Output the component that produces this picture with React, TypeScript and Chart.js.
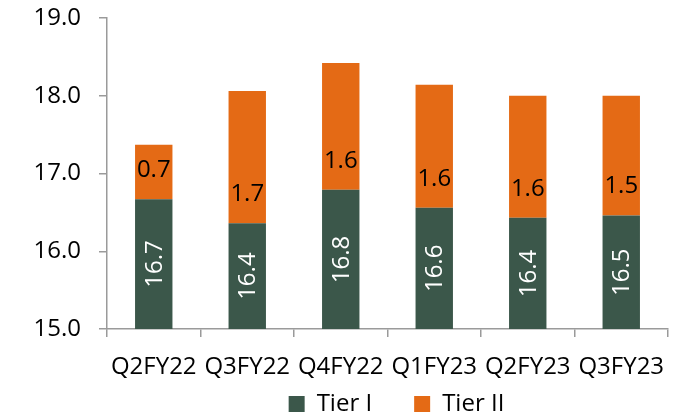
import React, { useEffect, useRef } from "react";
import { Chart, registerables } from "chart.js";

Chart.register(...registerables);

const categories = ["Q2FY22", "Q3FY22", "Q4FY22", "Q1FY23", "Q2FY23", "Q3FY23"];
const tier1 = [16.67, 16.36, 16.79, 16.56, 16.43, 16.46];
const tier2 = [0.7, 1.7, 1.63, 1.58, 1.57, 1.54];
const yTicks = [15, 16, 17, 18, 19];

const FONT = "'Open Sans'";
const FS = 24;
const GREEN = "#3B574A";
const ORANGE = "#E46A15";
const AXIS = "#9a9a9a";

const labelPlugin = {
  id: "barLabels",
  afterLayout(chart: any) {
    const lg = chart.legend;
    if (lg) {
      lg.top = 404 - 42 - FS / 2;
      lg.bottom = chart.height;
      lg.height = lg.bottom - lg.top;
      lg.left += 9;
      lg.right += 9;
    }
  },
  afterDatasetsDraw(chart: any) {
    const ctx = chart.ctx;
    const area = chart.chartArea;
    ctx.save();
    ctx.font = `${FS}px ${FONT}`;
    ctx.textAlign = "center";
    ctx.textBaseline = "middle";
    chart.data.datasets.forEach((ds: any, di: number) => {
      const meta = chart.getDatasetMeta(di);
      meta.data.forEach((el: any, i: number) => {
        const v = ds.data[i] as number;
        const txt = v.toFixed(1);
        const { x, y, base } = el.getProps(["x", "y", "base"], true);
        const b = Math.min(base, area.bottom);
        if (di === 0) {
          ctx.save();
          ctx.translate(x, (y + b) / 2);
          ctx.rotate(-Math.PI / 2);
          ctx.fillStyle = "#ffffff";
          ctx.fillText(txt, 0, 1);
          ctx.restore();
        } else {
          ctx.fillStyle = "#000000";
          ctx.fillText(txt, x, b - 29);
        }
      });
    });
    ctx.restore();
  },
};

export default function App() {
  const ref = useRef<HTMLCanvasElement | null>(null);

  useEffect(() => {
    if (!ref.current) return;
    const chart = new Chart(ref.current, {
      type: "bar",
      data: {
        labels: categories,
        datasets: [
          {
            label: "Tier I",
            data: tier1,
            backgroundColor: GREEN,
            borderWidth: 0,
            categoryPercentage: 0.8,
            barPercentage: 0.5,
          },
          {
            label: "Tier II",
            data: tier2,
            backgroundColor: ORANGE,
            borderWidth: 0,
            categoryPercentage: 0.8,
            barPercentage: 0.5,
          },
        ],
      },
      options: {
        responsive: false,
        animation: false,
        events: [],
        layout: { padding: { top: 18, right: 25, bottom: 0, left: 0 } },
        plugins: {
          tooltip: { enabled: false },
          legend: {
            position: "bottom",
            fullSize: false,
            maxHeight: 30,
            labels: {
              color: "#000",
              font: { family: FONT, size: FS },
              boxWidth: 16,
              boxHeight: 16,
              padding: 42,
            },
          },
        },
        scales: {
          x: {
            stacked: true,
            offset: true,
            afterFit: (s: any) => {
              s.height = 60;
            },
            grid: {
              display: true,
              offset: true,
              drawOnChartArea: false,
              drawTicks: true,
              tickLength: 8,
              color: AXIS,
              lineWidth: 1.5,
            },
            border: { display: true, color: AXIS, width: 1.5 },
            ticks: {
              color: "#000",
              font: { family: FONT, size: FS },
              padding: 16,
              autoSkip: false,
              maxRotation: 0,
              minRotation: 0,
            },
          },
          y: {
            stacked: true,
            min: 15,
            max: 19,
            afterFit: (s: any) => {
              s.width = 107;
              s.paddingTop = 0;
              s.paddingBottom = 0;
            },
            afterBuildTicks: (s: any) => {
              s.ticks = yTicks.map((v) => ({ value: v }));
            },
            grid: {
              display: true,
              drawOnChartArea: false,
              drawTicks: true,
              tickLength: 8,
              color: AXIS,
              lineWidth: 1.5,
            },
            border: { display: true, color: AXIS, width: 1.5 },
            ticks: {
              color: "#000",
              font: { family: FONT, size: FS },
              padding: 18,
              callback: (v: any) => Number(v).toFixed(1),
            },
          },
        },
      },
      plugins: [labelPlugin],
    });
    return () => chart.destroy();
  }, []);

  return (
    <div style={{ position: "fixed", left: 0, top: 0, width: 693, height: 419, background: "#fff" }}>
      <canvas ref={ref} width={693} height={419} style={{ width: 693, height: 419 }} />
    </div>
  );
}
